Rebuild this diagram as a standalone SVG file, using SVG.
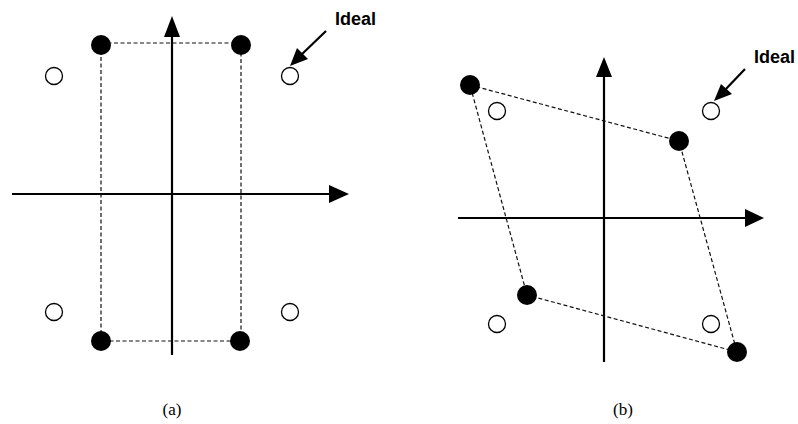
<svg xmlns="http://www.w3.org/2000/svg" width="798" height="424" viewBox="0 0 798 424">
<style>
.axis{stroke:#000;stroke-width:2.2;fill:none}
.dash{stroke:#111;stroke-width:1.2;stroke-dasharray:4,2.5;fill:none}
.ideal{fill:#fff;stroke:#000;stroke-width:1.3}
.actual{fill:#000;stroke:none}
.lbl{font-family:"Liberation Sans",Arial,sans-serif;font-weight:bold;font-size:18px;fill:#000}
.cap{font-family:"Liberation Serif","Times New Roman",serif;font-size:17px;fill:#000}
.ptr{stroke:#000;stroke-width:2.2;fill:none}
.head{fill:#000;stroke:none}
</style>
<g id="connectors">
<line class="axis" x1="172" y1="355" x2="172" y2="34"/>
<path class="head" d="M172,16 L180,37 L164,37 z"/>
<line class="axis" x1="12" y1="194" x2="332" y2="194"/>
<path class="head" d="M349,194 L329,185 L329,203 z"/>
<path class="dash" d="M101,43 L241,43 L241,341 L101,341 z"/>
<line class="ptr" x1="326" y1="31" x2="300" y2="56"/>
<path class="head" d="M290,66 L297,48 L308,59 z"/>
<line class="axis" x1="604" y1="362" x2="604" y2="74"/>
<path class="head" d="M604,57 L612,77 L596,77 z"/>
<line class="axis" x1="458" y1="218" x2="748" y2="218"/>
<path class="head" d="M764,218 L745,209 L745,227 z"/>
<path class="dash" d="M470,85 L679,141 L737,352 L527,295 z"/>
<line class="ptr" x1="745" y1="69" x2="724" y2="91"/>
<path class="head" d="M714,101 L721,84 L732,94 z"/>
</g>
<g id="panel-a">
<g id="a-ideal-1"><circle class="ideal" cx="54" cy="76" r="8.5"/></g>
<g id="a-ideal-2"><circle class="ideal" cx="290" cy="76" r="8.5"/></g>
<g id="a-ideal-3"><circle class="ideal" cx="54" cy="312" r="8.5"/></g>
<g id="a-ideal-4"><circle class="ideal" cx="290" cy="312" r="8.5"/></g>
<g id="a-actual-1"><circle class="actual" cx="101" cy="45" r="10"/></g>
<g id="a-actual-2"><circle class="actual" cx="241" cy="45" r="10"/></g>
<g id="a-actual-3"><circle class="actual" cx="101" cy="341" r="10"/></g>
<g id="a-actual-4"><circle class="actual" cx="240" cy="341" r="10"/></g>
<g id="a-label"><text class="lbl" x="335" y="25">Ideal</text></g>
<g id="a-caption"><text class="cap" x="172" y="415" text-anchor="middle">(a)</text></g>
</g>
<g id="panel-b">
<g id="b-ideal-1"><circle class="ideal" cx="497" cy="111" r="8.5"/></g>
<g id="b-ideal-2"><circle class="ideal" cx="711" cy="111" r="8.5"/></g>
<g id="b-ideal-3"><circle class="ideal" cx="497" cy="324" r="8.5"/></g>
<g id="b-ideal-4"><circle class="ideal" cx="711" cy="324" r="8.5"/></g>
<g id="b-actual-1"><circle class="actual" cx="470" cy="85" r="10"/></g>
<g id="b-actual-2"><circle class="actual" cx="679" cy="141" r="10"/></g>
<g id="b-actual-3"><circle class="actual" cx="527" cy="295" r="10"/></g>
<g id="b-actual-4"><circle class="actual" cx="737" cy="352" r="10"/></g>
<g id="b-label"><text class="lbl" x="754" y="63">Ideal</text></g>
<g id="b-caption"><text class="cap" x="623" y="415" text-anchor="middle">(b)</text></g>
</g>
</svg>
